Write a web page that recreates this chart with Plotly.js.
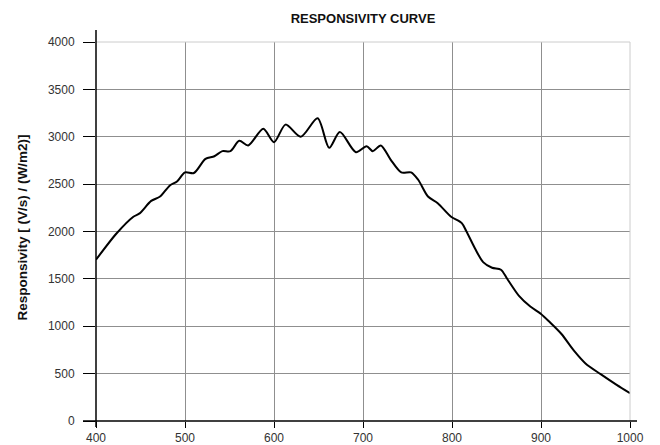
<!DOCTYPE html>
<html>
<head>
<meta charset="utf-8">
<script src="https://cdn.plot.ly/plotly-3.0.1.min.js"></script>
<style>html,body{margin:0;padding:0;background:#fff;}#chart{width:660px;height:445px;}</style>
</head>
<body>
<div id="chart"></div>
<script>
// Data
const wavelength = [400, 423, 442, 449, 462, 472, 483, 491, 500, 510, 523, 533, 542, 551, 561, 571, 588, 600, 613, 630, 649, 662, 674, 692, 704, 711, 720, 731, 743, 754, 762, 773, 784, 799, 811, 816, 826, 835, 845, 855, 862, 875, 888, 900, 910, 923, 937, 950, 967, 985, 1000];
const responsivity = [1702, 1979, 2156, 2191, 2323, 2369, 2486, 2528, 2624, 2617, 2766, 2794, 2848, 2848, 2957, 2908, 3085, 2943, 3128, 3000, 3195, 2883, 3050, 2837, 2901, 2848, 2908, 2759, 2624, 2624, 2546, 2369, 2298, 2156, 2088, 2005, 1818, 1677, 1617, 1596, 1501, 1324, 1208, 1130, 1042, 918, 742, 607, 494, 381, 293];
const xTicks = [400, 500, 600, 700, 800, 900, 1000];
const yTicks = [0, 500, 1000, 1500, 2000, 2500, 3000, 3500, 4000];
const chartTitle = 'RESPONSIVITY CURVE';
const yTitle = 'Responsivity [ (V/s) / (W/m2)]';

const FONT = 'Liberation Sans, Arial, Helvetica, sans-serif';
const GRID = '#8f8f8f';

const trace = {
  x: wavelength,
  y: responsivity,
  type: 'scatter',
  mode: 'lines',
  line: {color: '#000', width: 2, shape: 'spline', smoothing: 0.8},
  hoverinfo: 'skip'
};

const layout = {
  width: 660,
  height: 445,
  margin: {l: 96, r: 30, t: 42, b: 24, pad: 0},
  paper_bgcolor: '#fff',
  plot_bgcolor: '#fff',
  showlegend: false,
  font: {family: FONT, size: 12, color: '#333'},
  title: {
    text: '<b>' + chartTitle + '</b>',
    font: {family: FONT, size: 13, color: '#111'},
    x: 0.5, xref: 'paper', xanchor: 'center',
    y: 1 - 18.5 / 445, yref: 'container', yanchor: 'middle'
  },
  xaxis: {
    range: [400, 1000],
    tickmode: 'array', tickvals: xTicks, ticktext: xTicks.map(String),
    showgrid: true, gridcolor: GRID, gridwidth: 1,
    zeroline: false, showline: false,
    ticks: 'outside', ticklen: 6, tickcolor: '#000', tickwidth: 1,
    ticklabelstandoff: 0,
    tickfont: {family: FONT, size: 12, color: '#333'},
    fixedrange: true
  },
  yaxis: {
    range: [0, 4000],
    tickmode: 'array', tickvals: yTicks, ticktext: yTicks.map(String),
    showgrid: true, gridcolor: GRID, gridwidth: 1,
    zeroline: false, showline: false,
    ticks: 'outside', ticklen: 12, tickcolor: '#000', tickwidth: 1,
    ticklabelstandoff: 6,
    tickfont: {family: FONT, size: 12, color: '#333'},
    fixedrange: true
  },
  shapes: [
    // top border (light)
    {type: 'line', xref: 'paper', yref: 'paper', x0: 0, x1: 1, y0: 1, y1: 1, line: {color: '#cccccc', width: 1}, layer: 'above'},
    // right border (light)
    {type: 'line', xref: 'paper', yref: 'paper', x0: 1, x1: 1, y0: 0, y1: 1, line: {color: '#cccccc', width: 1}, layer: 'above'},
    // x axis line, extended past ends
    {type: 'line', xref: 'paper', yref: 'paper', xsizemode: 'pixel', xanchor: 0, x0: -13, x1: 541, y0: 0, y1: 0, line: {color: '#000', width: 1.5}, layer: 'above'},
    // y axis line, extended past ends
    {type: 'line', xref: 'paper', yref: 'paper', ysizemode: 'pixel', yanchor: 0, y0: -6, y1: 391, x0: 0, x1: 0, line: {color: '#000', width: 1.5}, layer: 'above'}
  ],
  annotations: [
    {
      text: '<b>' + yTitle + '</b>',
      xref: 'paper', yref: 'paper', x: 0, y: 0.5,
      xanchor: 'center', yanchor: 'middle',
      xshift: -74, yshift: 4,
      textangle: -90, showarrow: false,
      font: {family: FONT, size: 13.5, color: '#111'}
    }
  ]
};

Plotly.newPlot('chart', [trace], layout, {displayModeBar: false, staticPlot: true});
</script>
</body>
</html>
